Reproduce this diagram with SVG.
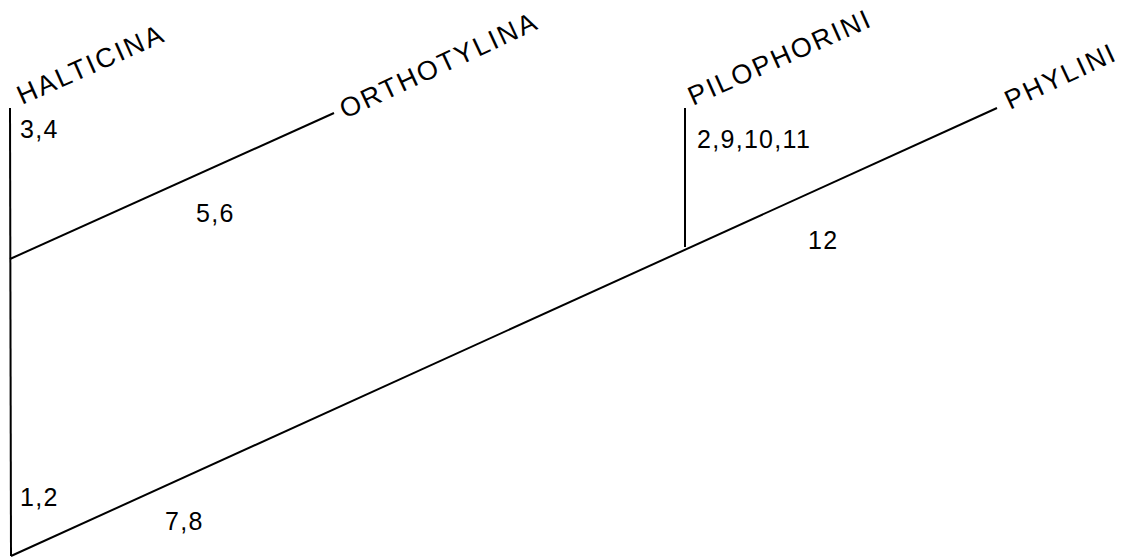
<svg xmlns="http://www.w3.org/2000/svg" width="1128" height="557" viewBox="0 0 1128 557">
<style>
.ln{stroke:#000;stroke-width:2;fill:none;stroke-linecap:butt}
.t{font-family:"Liberation Sans",Arial,sans-serif;font-size:25px;letter-spacing:1.3px;fill:#000}
.n{font-family:"Liberation Sans",Arial,sans-serif;font-size:27px;letter-spacing:2.2px;fill:#000}
</style>
<rect width="1128" height="557" fill="#fff"/>
<g id="connectors">
<line class="ln" x1="10" y1="108" x2="11" y2="556"/>
<line class="ln" x1="10" y1="259" x2="334" y2="113"/>
<line class="ln" x1="11" y1="556" x2="997" y2="108"/>
<line class="ln" x1="685" y1="108" x2="685" y2="247"/>
</g>
<g id="halticina"><text class="n" transform="translate(22,105) rotate(-24)">HALTICINA</text></g>
<g id="orthotylina"><text class="n" transform="translate(345,119) rotate(-25)">ORTHOTYLINA</text></g>
<g id="pilophorini"><text class="n" transform="translate(693,106) rotate(-24)">PILOPHORINI</text></g>
<g id="phylini"><text class="n" transform="translate(1010,110) rotate(-25)">PHYLINI</text></g>
<g id="labels">
<text class="t" x="20" y="138">3,4</text>
<text class="t" x="196" y="222">5,6</text>
<text class="t" x="697" y="148">2,9,10,11</text>
<text class="t" x="808" y="249">12</text>
<text class="t" x="20" y="506">1,2</text>
<text class="t" x="165" y="530">7,8</text>
</g>
</svg>
